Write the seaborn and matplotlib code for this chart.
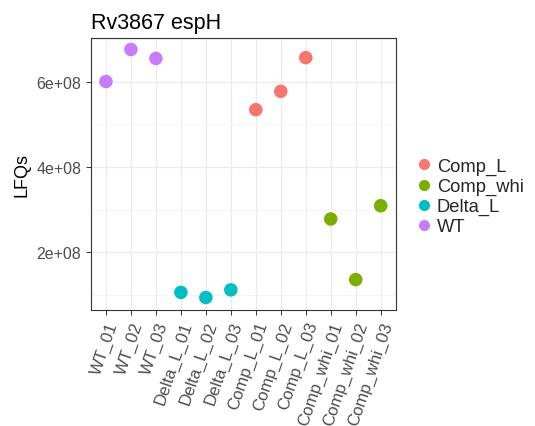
import numpy as np
import pandas as pd
import matplotlib
matplotlib.use("Agg")
import matplotlib.pyplot as plt
from matplotlib.ticker import FuncFormatter, MultipleLocator
import seaborn as sns

samples = ["WT_01", "WT_02", "WT_03",
           "Delta_L_01", "Delta_L_02", "Delta_L_03",
           "Comp_L_01", "Comp_L_02", "Comp_L_03",
           "Comp_whi_01", "Comp_whi_02", "Comp_whi_03"]
groups = ["WT"] * 3 + ["Delta_L"] * 3 + ["Comp_L"] * 3 + ["Comp_whi"] * 3
lfqs = [6.00e8, 6.75e8, 6.54e8,
        1.06e8, 0.94e8, 1.12e8,
        5.34e8, 5.77e8, 6.56e8,
        2.78e8, 1.36e8, 3.09e8]
hue_order = ["Comp_L", "Comp_whi", "Delta_L", "WT"]
palette = ["#F8766D", "#7CAE00", "#00BFC4", "#C77CFF"]

df = pd.DataFrame({"sample": samples, "group": groups, "LFQs": lfqs})

sns.set_style("white")
plt.rcParams["font.family"] = ["Liberation Sans", "DejaVu Sans"]

fig = plt.figure(figsize=(5.35, 4.27), dpi=100)
ax = fig.add_axes([0.170, 0.2724, 0.5696, 0.6363])

sns.scatterplot(data=df, x="sample", y="LFQs", hue="group", hue_order=hue_order,
                palette=palette, s=95, linewidth=0, ax=ax, zorder=3)

ax.set_xlim(-0.6, len(samples) - 0.4)
ax.set_ylim(0.655e8, 7.02e8)
ax.yaxis.set_major_locator(MultipleLocator(2e8))
ax.yaxis.set_minor_locator(MultipleLocator(1e8))
ax.yaxis.set_major_formatter(FuncFormatter(lambda v, p: f"{v:.0e}"))

ax.grid(True, which="major", color="#EBEBEB", linewidth=0.9)
ax.grid(True, which="minor", axis="y", color="#F0F0F0", linewidth=0.5)
ax.set_axisbelow(True)
for sp in ax.spines.values():
    sp.set_color("#333333")
    sp.set_linewidth(0.8)

ax.tick_params(axis="both", which="major", direction="out", length=3.5, width=0.7,
               color="#333333", labelcolor="#4D4D4D", labelsize=11.5, left=True, bottom=True)
ax.tick_params(axis="x", labelsize=12.2)
ax.tick_params(axis="y", which="minor", left=False)
plt.setp(ax.get_xticklabels(), rotation=71, ha="right", rotation_mode="anchor")

ax.set_xlabel("")
ax.set_ylabel("LFQs", fontsize=13, color="black", labelpad=4)
ax.set_title("Rv3867 espH", loc="left", fontsize=15.5, color="black", pad=7)

ax.legend_.remove()
handles = [plt.Line2D([], [], marker="o", linestyle="", markersize=8,
                      markerfacecolor=c, markeredgewidth=0) for c in palette]
fig.legend(handles, hue_order, loc="center left", bbox_to_anchor=(0.765, 0.5375),
           frameon=False, fontsize=13.2, handletextpad=0.3, labelspacing=0.16,
           handlelength=0.8, borderaxespad=0)

fig.savefig("out.png", dpi=100)
